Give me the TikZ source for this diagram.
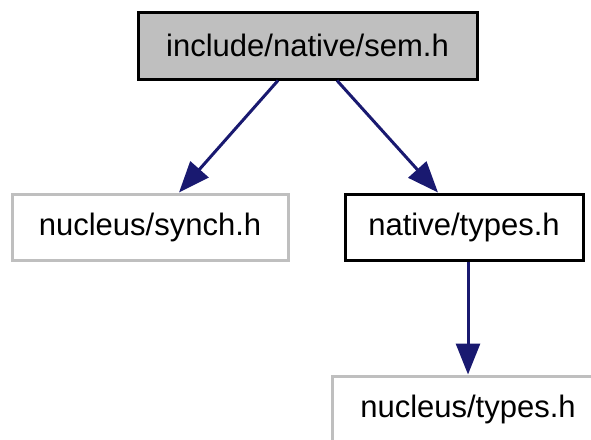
\documentclass[tikz,border=0pt]{standalone}
\usepackage{fontspec}
\setmainfont{Liberation Sans}
\usetikzlibrary{arrows.meta}
\definecolor{edgeblue}{HTML}{191970}
\definecolor{boxgray}{HTML}{BFBFBF}
\begin{document}
\begin{tikzpicture}[x=1pt,y=-1pt,
  box/.style={draw=black, line width=3pt, rectangle, inner sep=0pt, font=\fontsize{31}{37}\selectfont},
  graybox/.style={box, draw=boxgray},
  arr/.style={draw=edgeblue, line width=3pt, -{Triangle[length=31pt,width=24pt]}}]
\useasboundingbox (0,0) rectangle (591,439);
\clip (0,0) rectangle (591,439);
\node[box, fill=boxgray, minimum width=339pt, minimum height=67pt] (top) at (307.5,45.5) {include/native/sem.h};
\node[graybox, minimum width=276pt, minimum height=66pt] (synch) at (150,227) {nucleus/synch.h};
\node[box, minimum width=238pt, minimum height=66pt] (ntypes) at (464,227) {native/types.h};
\node[graybox, minimum width=272pt, minimum height=66pt] (nutypes) at (468,409) {nucleus/types.h};
\draw[arr] ([xshift=-29.5pt]top.south) -- ([xshift=29pt]synch.north);
\draw[arr] ([xshift=29.5pt]top.south) -- ([xshift=-26pt]ntypes.north);
\draw[arr] ([xshift=4pt]ntypes.south) -- (nutypes.north);
\end{tikzpicture}
\end{document}
